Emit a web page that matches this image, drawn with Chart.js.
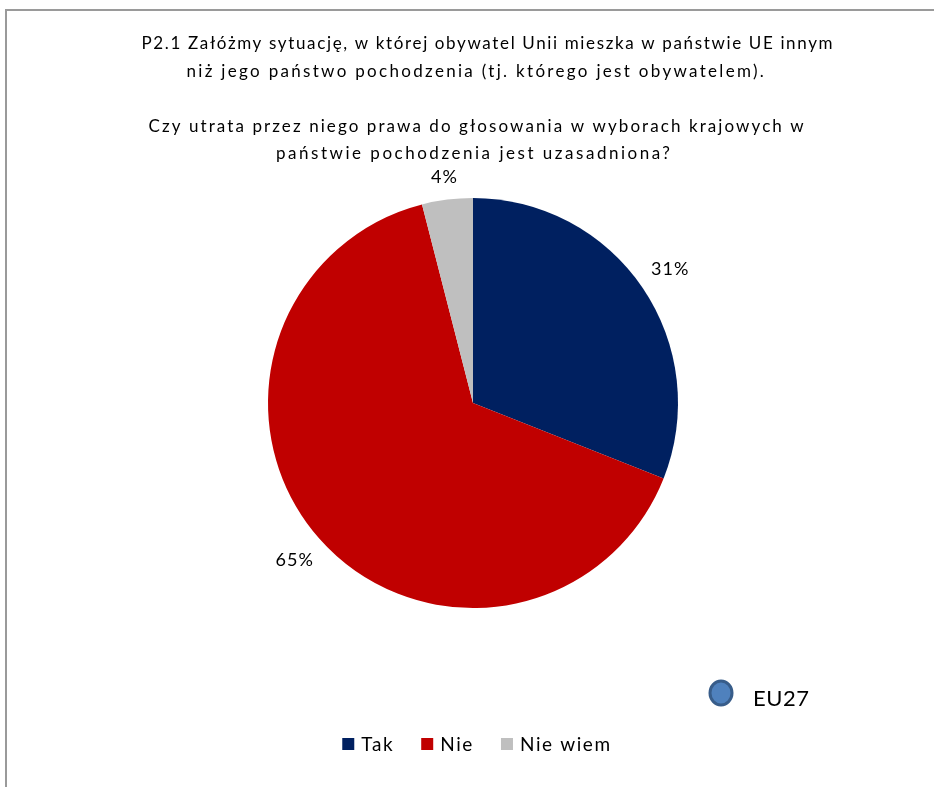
<!DOCTYPE html>
<html>
<head>
<meta charset="utf-8">
<script src="https://cdn.jsdelivr.net/npm/chart.js@4.4.1/dist/chart.umd.min.js"></script>
<style>
  html, body { margin: 0; padding: 0; background: #fff; }
  #wrap { position: relative; width: 934px; height: 787px; }
</style>
</head>
<body>
<div id="wrap"><canvas id="pieChart" width="934" height="787"></canvas></div>
<script>
// ===== Data =====
const categories = ["Tak", "Nie", "Nie wiem"];
const values = [31, 65, 4];
const sliceColors = ["#002060", "#C00000", "#BFBFBF"];
const titleLines = [
    "P2.1 Załóżmy sytuację, w której obywatel Unii mieszka w państwie UE innym",
    "niż jego państwo pochodzenia (tj. którego jest obywatelem).",
    "",
    "Czy utrata przez niego prawa do głosowania w wyborach krajowych w",
    "państwie pochodzenia jest uzasadniona?"
];
const badgeLabel = "EU27";

const FONT = "Lato, 'Open Sans', sans-serif";
// rough width / centre of each title line in the original (Excel spaces letters loosely)
const titleFit = [[691, 487], [577, 475], null, [655, 476], [394, 473]];

// ===== Text, legend and frame drawn on top of the pie =====
const decorPlugin = {
    id: "decor",
    beforeDraw(chart) {
        const ctx = chart.ctx;
        ctx.save();
        ctx.strokeStyle = "#9a9a9a";
        ctx.lineWidth = 2;
        ctx.beginPath();
        ctx.moveTo(6, 787);
        ctx.lineTo(6, 10);
        ctx.lineTo(934, 10);
        ctx.stroke();
        ctx.restore();
    },
    afterDraw(chart) {
        const ctx = chart.ctx;
        ctx.save();
        ctx.fillStyle = "#000";
        ctx.textBaseline = "middle";

        // title
        ctx.textAlign = "left";
        ctx.font = "17px " + FONT;
        titleLines.forEach((line, i) => {
            if (!line) return;
            const [w, cx] = titleFit[i];
            ctx.letterSpacing = "0px";
            const natural = ctx.measureText(line).width;
            const sp = (w - natural) / (line.length - 1);
            ctx.letterSpacing = sp.toFixed(2) + "px";
            ctx.fillText(line, cx - w / 2, 44 + i * 27.5);
        });

        // percentage labels outside each slice
        const meta = chart.getDatasetMeta(0);
        ctx.font = "18px " + FONT;
        ctx.letterSpacing = "1px";
        meta.data.forEach((arc, i) => {
            const mid = (arc.startAngle + arc.endAngle) / 2;
            const txt = values[i] + "%";
            const w = ctx.measureText(txt).width;
            const h = 13;
            const dx = Math.cos(mid), dy = Math.sin(mid);
            const dist = arc.outerRadius + 14 + Math.abs(dx) * w / 2 + Math.abs(dy) * h / 2;
            ctx.textAlign = "center";
            ctx.fillText(txt, arc.x + dx * dist, arc.y + dy * dist);
        });

        // legend
        ctx.font = "19px " + FONT;
        ctx.letterSpacing = "1.6px";
        ctx.textAlign = "left";
        const box = 12, gap = 7, spacing = 27;
        const widths = categories.map(c => box + gap + ctx.measureText(c).width);
        const total = widths.reduce((a, b) => a + b, 0) + spacing * (categories.length - 1);
        let x = 477 - total / 2;
        const ly = 744;
        categories.forEach((c, i) => {
            ctx.fillStyle = sliceColors[i];
            ctx.fillRect(x, ly - box / 2, box, box);
            ctx.fillStyle = "#000";
            ctx.fillText(c, x + box + gap, ly + 1);
            x += widths[i] + spacing;
        });

        // EU27 badge
        ctx.letterSpacing = "0.5px";
        ctx.beginPath();
        ctx.ellipse(721, 693, 11, 12, 0, 0, Math.PI * 2);
        ctx.fillStyle = "#4F81BD";
        ctx.fill();
        ctx.lineWidth = 3;
        ctx.strokeStyle = "#385D8A";
        ctx.stroke();
        ctx.fillStyle = "#000";
        ctx.font = "22px " + FONT;
        ctx.textAlign = "left";
        ctx.fillText(badgeLabel, 753, 699);

        ctx.restore();
    }
};

new Chart(document.getElementById("pieChart"), {
    type: "pie",
    data: {
        labels: categories,
        datasets: [{
            data: values,
            backgroundColor: sliceColors,
            borderWidth: 0
        }]
    },
    options: {
        responsive: false,
        animation: false,
        layout: { padding: { left: 268, right: 256, top: 198, bottom: 179 } },
        plugins: {
            legend: { display: false },
            tooltip: { enabled: false }
        }
    },
    plugins: [decorPlugin]
});
</script>
</body>
</html>
